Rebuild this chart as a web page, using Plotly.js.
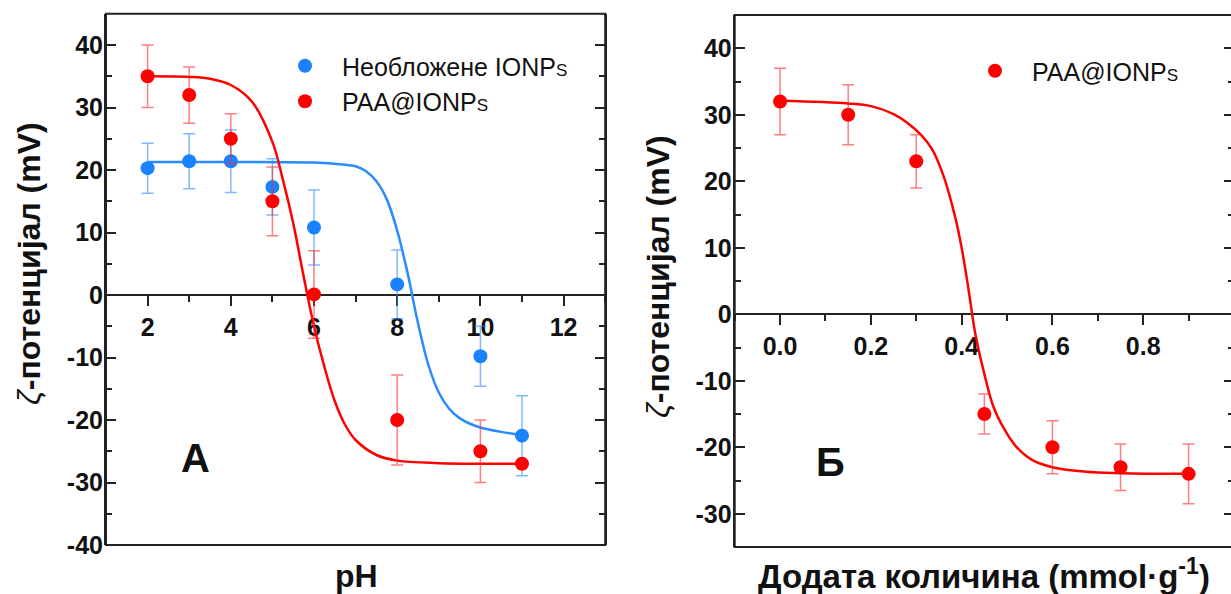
<!DOCTYPE html>
<html><head><meta charset="utf-8">
<script src="https://cdn.plot.ly/plotly-3.0.1.min.js"></script>
<style>html,body{margin:0;padding:0;overflow:hidden;background:#fff}</style>
</head><body><div id="chart" style="width:1236px;height:594px"></div>
<script>
// ---- Panel A: zeta potential vs pH ----
const phX = [2, 3, 4, 5, 6, 8, 10, 11];
const bareY = [20.3, 21.4, 21.4, 17.3, 10.8, 1.7, -9.8, -22.5];
const bareErr = [4, 4.4, 5, 4.5, 6, 5.5, 4.8, 6.4];
const paaY = [35, 32, 25, 15, 0.1, -20, -25, -27];
const paaErr = [5, 4.5, 4, 5.5, 7, 7.2, 5, 0];

// fitted curves
const bareFitX = [2, 4, 6, 6.5, 7, 7.25, 7.5, 7.75, 8, 8.25, 8.5, 8.75, 9, 9.25, 9.5, 9.75, 10, 10.5, 11];
const bareFitY = [21.3, 21.3, 21.2, 21.0, 20.6, 19.8, 18.2, 15.3, 10.3, 3.5, -4.5, -11.2, -15.6, -18.2, -19.7, -20.6, -21.2, -21.9, -22.4];
const paaFitX = [2, 3, 3.5, 4, 4.5, 5, 5.25, 5.5, 5.75, 6, 6.25, 6.5, 6.75, 7, 7.5, 8, 9, 10, 11];
const paaFitY = [35, 34.9, 34.6, 33.6, 31, 24.5, 18.5, 11.5, 3, -5, -11.5, -17, -20.8, -23.2, -25.6, -26.5, -26.9, -27, -27];

const phTicks = [2, 4, 6, 8, 10, 12];
const phTickText = ['2', '4', '6', '8', '10', '12'];
const zetaTicksA = [-40, -30, -20, -10, 0, 10, 20, 30, 40];
const zetaTickTextA = ['-40', '-30', '-20', '-10', '0', '10', '20', '30', '40'];

// ---- Panel Б: zeta potential vs added amount ----
const amountX = [0, 0.15, 0.3, 0.45, 0.6, 0.75, 0.9];
const amountY = [32, 30, 23, -15, -20, -23, -24];
const amountErr = [5, 4.5, 4, 3, 4, 3.5, 4.5];
const amountFitX = [0, 0.15, 0.2, 0.25, 0.28, 0.31, 0.335, 0.36, 0.385, 0.4, 0.415, 0.43, 0.45, 0.47, 0.495, 0.52, 0.555, 0.6, 0.675, 0.75, 0.9];
const amountFitY = [32.1, 31.7, 31.3, 30.1, 28.8, 27, 24.8, 20.8, 14.8, 10, 3.8, -2.9, -9, -13.9, -17.4, -19.9, -21.9, -23, -23.7, -23.9, -24];

const amountTicks = [0, 0.2, 0.4, 0.6, 0.8];
const amountTickText = ['0.0', '0.2', '0.4', '0.6', '0.8'];
const zetaTicksB = [-30, -20, -10, 0, 10, 20, 30, 40];
const zetaTickTextB = ['-30', '-20', '-10', '0', '10', '20', '30', '40'];

const nameBare = 'Необложене IONP<span style="font-size:17px">S</span>';
const namePaa = 'PAA@IONP<span style="font-size:17px">S</span>';

const BLUE = '#1a82ff', RED = '#ff0000';
const FONT = 'Liberation Sans, Arial, sans-serif';
const AX = '#222';
const W = 1236, H = 594;

const traces = [
  {x: bareFitX, y: bareFitY, mode: 'lines', line: {color: '#2a8cff', width: 2.5, shape: 'spline'}, showlegend: false, hoverinfo: 'skip', xaxis: 'x', yaxis: 'y'},
  {x: paaFitX, y: paaFitY, mode: 'lines', line: {color: RED, width: 2.5, shape: 'spline'}, showlegend: false, hoverinfo: 'skip', xaxis: 'x', yaxis: 'y'},
  {x: phX, y: bareY, mode: 'markers', name: nameBare, legend: 'legend',
   marker: {color: BLUE, size: 14},
   error_y: {type: 'data', array: bareErr, visible: true, color: 'rgba(40,140,255,0.6)', thickness: 1.5, width: 6},
   xaxis: 'x', yaxis: 'y'},
  {x: phX, y: paaY, mode: 'markers', name: namePaa, legend: 'legend',
   marker: {color: RED, size: 14},
   error_y: {type: 'data', array: paaErr, visible: true, color: 'rgba(255,40,40,0.6)', thickness: 1.5, width: 6},
   xaxis: 'x', yaxis: 'y'},
  {x: amountFitX, y: amountFitY, mode: 'lines', line: {color: RED, width: 2.5, shape: 'spline'}, showlegend: false, hoverinfo: 'skip', xaxis: 'x2', yaxis: 'y2'},
  {x: amountX, y: amountY, mode: 'markers', name: namePaa, legend: 'legend2',
   marker: {color: RED, size: 14},
   error_y: {type: 'data', array: amountErr, visible: true, color: 'rgba(255,40,40,0.6)', thickness: 1.5, width: 6},
   xaxis: 'x2', yaxis: 'y2'}
];

const tickFont = {family: FONT, size: 25, weight: 700, color: '#111'};
function xAxis(domain, range, pos, tv, tt, minorD) {
  return {domain: domain, range: range, anchor: 'free', position: pos,
    showline: true, linecolor: AX, linewidth: 2, showgrid: false, zeroline: false,
    ticks: 'outside', ticklen: 10, tickwidth: 2, tickcolor: AX,
    tickmode: 'array', tickvals: tv, ticktext: tt, tickfont: tickFont, ticklabelstandoff: 0,
    minor: {dtick: minorD, tick0: 0, ticks: 'outside', ticklen: 6, tickwidth: 2, tickcolor: AX},
    layer: 'below traces', fixedrange: true};
}
function yAxis(domain, range, anchor, tv, tt) {
  return {domain: domain, range: range, anchor: anchor,
    showline: true, linecolor: AX, linewidth: 2, mirror: 'ticks', showgrid: false, zeroline: false,
    ticks: 'inside', ticklen: 10, tickwidth: 2, tickcolor: AX,
    tickmode: 'array', tickvals: tv, ticktext: tt, tickfont: tickFont, ticklabelstandoff: -4,
    minor: {dtick: 5, tick0: 0, ticks: 'inside', ticklen: 6, tickwidth: 2, tickcolor: AX},
    layer: 'below traces', fixedrange: true};
}

const yTitle = '<span style="font-style:italic;font-weight:normal">ζ</span>-потенцијал (mV)';
const titleFont = {family: FONT, size: 32, weight: 700, color: '#111'};

const layout = {
  width: W, height: H,
  margin: {l: 0, r: 0, t: 0, b: 0},
  paper_bgcolor: '#fff', plot_bgcolor: '#fff',
  xaxis: xAxis([106 / W, 605.2 / W], [1, 13], 299 / H, phTicks, phTickText, 1),
  yaxis: yAxis([49 / H, 580.25 / H], [-40, 45], 'x', zetaTicksA, zetaTickTextA),
  xaxis2: xAxis([734.7 / W, 1234 / W], [-0.1, 1.0], 279.7 / H, amountTicks, amountTickText, 0.1),
  yaxis2: yAxis([47 / H, 579 / H], [-35, 45], 'x2', zetaTicksB, zetaTickTextB),
  legend: {x: 268 / W, xanchor: 'left', y: (H - 43) / H, yanchor: 'top', bgcolor: 'rgba(0,0,0,0)',
           font: {family: FONT, size: 25, color: '#111'}, tracegroupgap: 0, itemwidth: 64},
  legend2: {x: 958 / W, xanchor: 'left', y: (H - 48) / H, yanchor: 'top', bgcolor: 'rgba(0,0,0,0)',
           font: {family: FONT, size: 25, color: '#111'}, itemwidth: 64},
  shapes: [
    {type: 'rect', xref: 'x domain', yref: 'y domain', x0: 0, x1: 1, y0: 0, y1: 1, line: {color: AX, width: 2}, layer: 'below'},
    {type: 'rect', xref: 'x2 domain', yref: 'y2 domain', x0: 0, x1: 1, y0: 0, y1: 1, line: {color: AX, width: 2}, layer: 'below'}
  ],
  annotations: [
    {text: yTitle, xref: 'paper', yref: 'paper', x: 29 / W, y: (H - 264) / H, textangle: -90, showarrow: false, font: titleFont, xanchor: 'center', yanchor: 'middle'},
    {text: yTitle, xref: 'paper', yref: 'paper', x: 658 / W, y: (H - 276) / H, textangle: -90, showarrow: false, font: titleFont, xanchor: 'center', yanchor: 'middle'},
    {text: 'pH', xref: 'paper', yref: 'paper', x: 356 / W, y: (H - 576) / H, showarrow: false, font: titleFont, xanchor: 'center', yanchor: 'middle'},
    {text: 'Додата количина (mmol·g<sup>-1</sup>)', xref: 'paper', yref: 'paper', x: 984 / W, y: (H - 574) / H, showarrow: false, font: {family: FONT, size: 33, weight: 700, color: '#111'}, xanchor: 'center', yanchor: 'middle'},
    {text: 'А', xref: 'x', yref: 'y', x: 3.14, y: -26.1, showarrow: false, font: {family: FONT, size: 40, weight: 700, color: '#111'}},
    {text: 'Б', xref: 'x2', yref: 'y2', x: 0.11, y: -22.2, showarrow: false, font: {family: FONT, size: 40, weight: 700, color: '#111'}}
  ]
};

Plotly.newPlot('chart', traces, layout, {displayModeBar: false, staticPlot: true});
</script></body></html>
